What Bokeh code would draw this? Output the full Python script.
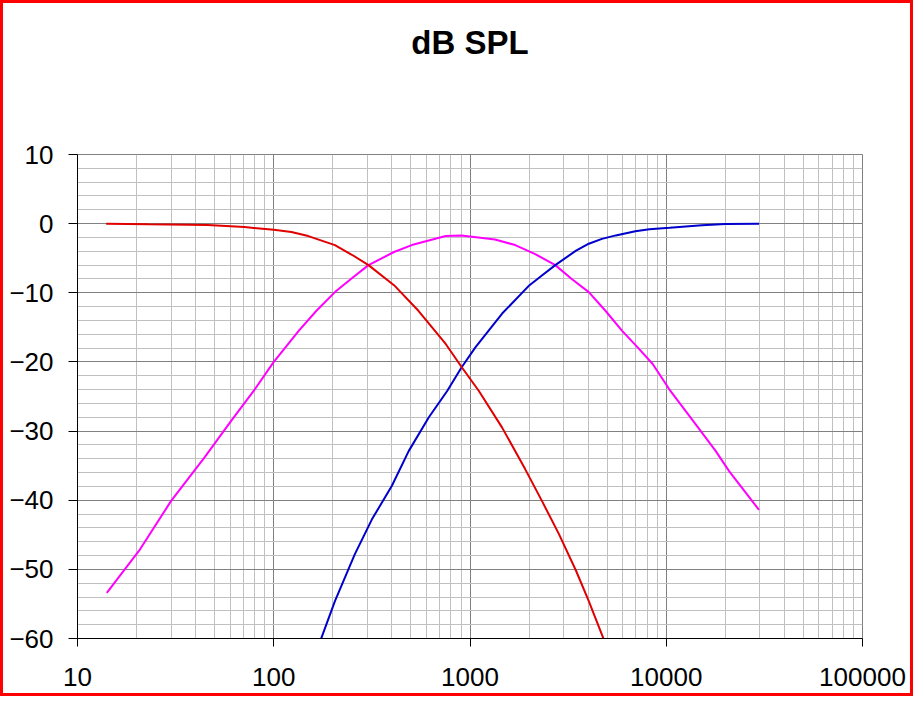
from bokeh.plotting import figure
from bokeh.models import FixedTicker, Range1d, Title
from bokeh.embed import file_html
from bokeh.resources import INLINE

# ---- data ----
low_f = [14, 23, 46, 71, 100, 123, 150, 205, 250, 304, 410, 546, 752, 910, 1110,
         1458, 1910, 2325, 2840, 3470, 4030, 4800]
low_db = [0, -0.1, -0.2, -0.5, -0.9, -1.2, -1.8, -3.1, -4.5, -6.0, -8.9, -12.6,
          -17.4, -20.8, -24.2, -29.5, -35.5, -40.1, -44.9, -50.2, -54.6, -60.1]

mid_f = [14.1, 20.6, 30, 44.4, 60.8, 79, 99.4, 134, 165, 205, 250, 304, 410, 505,
         752, 905, 1340, 1700, 2150, 2720, 3300, 4030, 4900, 5960, 7150, 8530,
         10500, 14100, 17880, 20900, 29700]
mid_db = [-53.4, -47.3, -40.1, -33.8, -28.5, -24.2, -20.1, -15.5, -12.6, -9.9,
          -7.9, -6.0, -4.1, -3.1, -1.8, -1.7, -2.3, -3.1, -4.4, -6.0, -8.0, -9.9,
          -12.6, -15.5, -17.9, -20.3, -24.2, -29.0, -32.9, -35.8, -41.4]

high_f = [174, 205, 259, 316, 400, 487, 617, 765, 905, 1065, 1458, 2010, 2325,
          2720, 3470, 4030, 4700, 5530, 6960, 8200, 10400, 15200, 20000, 29700]
high_db = [-60.1, -54.6, -47.8, -42.8, -37.9, -32.9, -28.0, -24.2, -20.8, -17.9,
           -13.0, -8.9, -7.5, -6.0, -3.9, -2.9, -2.2, -1.7, -1.1, -0.8, -0.6,
           -0.25, -0.05, 0]

x_ticks = [10, 100, 1000, 10000, 100000]
x_tick_labels = ["10", "100", "1000", "10000", "100000"]
y_ticks = [-60, -50, -40, -30, -20, -10, 0, 10]
title_text = "dB SPL"

x_minor = [m * d for d in x_ticks[:-1] for m in range(2, 10)]
y_minor = list(range(-60, 11, 2))

p = figure(width=913, height=696, x_axis_type="log",
           x_range=Range1d(10, 100000), y_range=Range1d(-60, 10),
           output_backend="svg", toolbar_location=None,
           min_border_left=74, min_border_right=54,
           min_border_top=151, min_border_bottom=61,
           background_fill_color="white", border_fill_color="white",
           styles={"border": "3px solid #ff0000"})

title_style = dict(align="center", text_font="Liberation Sans",
                   text_font_size="33px", text_font_style="bold",
                   text_color="black")
# empty spacer between the frame and the title (closest to the frame)
p.add_layout(Title(text=" ", standoff=37, **title_style), "above")
p.add_layout(Title(text=title_text, standoff=36, **title_style), "above")

p.outline_line_color = "#808080"
p.outline_line_width = 1

# axes
p.xaxis.ticker = FixedTicker(ticks=x_ticks, minor_ticks=x_minor)
p.yaxis.ticker = FixedTicker(ticks=y_ticks, minor_ticks=y_minor)
p.xaxis.major_label_overrides = {v: s for v, s in zip(x_ticks, x_tick_labels)}
for ax in (p.xaxis[0], p.yaxis[0]):
    ax.axis_line_color = "black"
    ax.axis_line_width = 1
    ax.major_tick_line_color = "black"
    ax.major_tick_in = 0
    ax.minor_tick_line_color = None
    ax.major_label_text_font = "Liberation Sans"
    ax.major_label_text_font_size = "26px"
    ax.major_label_text_color = "black"
p.xaxis.major_label_standoff = 21
p.yaxis.major_label_standoff = 15
p.xaxis.major_tick_out = 8
p.yaxis.major_tick_out = 9

# grids
for g in (p.xgrid[0], p.ygrid[0]):
    g.grid_line_color = "#808080"
    g.grid_line_width = 1
    g.minor_grid_line_color = "#c0c0c0"
    g.minor_grid_line_width = 1

p.line(mid_f, mid_db, line_color="#ff00ff", line_width=2)
p.line(high_f, high_db, line_color="#0000cc", line_width=2)
p.line(low_f, low_db, line_color="#e00000", line_width=2)

open("out.html", "w").write(file_html(p, INLINE))
